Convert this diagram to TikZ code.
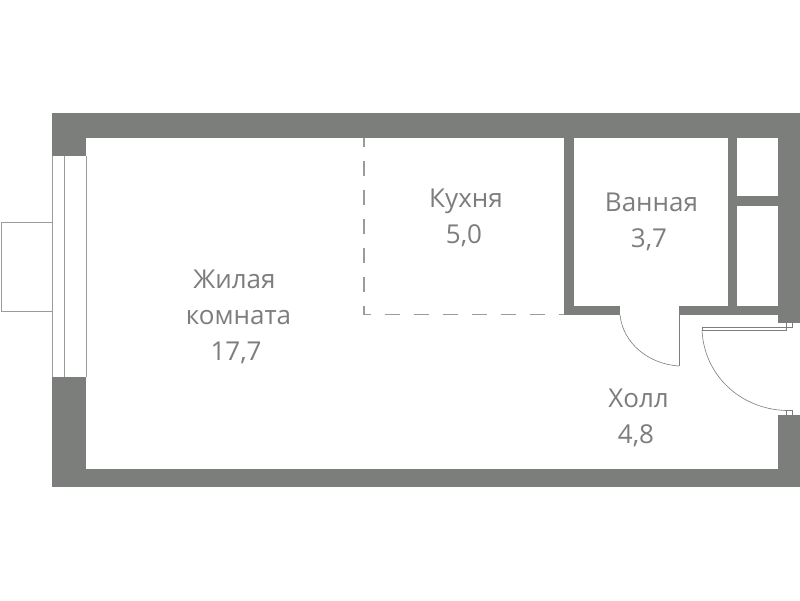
\documentclass[tikz,border=0pt]{standalone}
\usepackage{fontspec}
\setmainfont{Open Sans}
\definecolor{wallgray}{HTML}{7C7E7C}
\definecolor{linegray}{HTML}{9A9C9A}
\tikzset{
  wall/.style={fill=wallgray,draw=none},
  thin line/.style={draw=linegray,line width=1pt},
  fine line/.style={draw=wallgray,line width=0.8pt},
  room/.style={text=wallgray,font=\fontsize{26}{36}\selectfont,align=center,inner sep=0pt}
}
\begin{document}
\begin{tikzpicture}[x=1pt,y=-1pt]
\useasboundingbox (0,0) rectangle (800,600);
\fill[white] (0,0) rectangle (800,600);
% kitchen zone
\draw[thin line,line width=1.2pt,dash pattern=on 15pt off 14pt,dash phase=6pt] (364,138) -- (364,314.3) -- (564,314.3);
% walls
\fill[wall] (52,113) rectangle (800,138);
\fill[wall] (52,113) rectangle (86,156);
\fill[wall] (52,377) rectangle (86,487);
\fill[wall] (52,469) rectangle (800,487);
\fill[wall] (778,113) rectangle (800,323);
\fill[wall] (778,415) rectangle (800,487);
\fill[wall] (564,138) rectangle (574,315);
\fill[wall] (564,306) rectangle (620,315);
\fill[wall] (679,306) rectangle (778,315);
\fill[wall] (728,138) rectangle (737,306);
\fill[wall] (737,196) rectangle (778,206);
% window
\draw[thin line] (52.5,156) -- (52.5,377);
\draw[thin line] (64.5,156) -- (64.5,377);
\draw[thin line] (86,156) -- (86,377);
\draw[thin line] (52,222.5) -- (1,222.5) -- (1,311) -- (52,311);
% bathroom door
\draw[fine line] (679,315) -- (679,366);
\draw[draw=wallgray,line width=0.6pt] (620,315) .. controls (623,343) and (648,364) .. (679,366);
% entrance door
\draw[fine line] (702,327.8) -- (792,327.8) -- (792,323);
\draw[fine line] (702,327.8) -- (702,330.2) -- (786,330.2) -- (786,323);
\draw[draw=wallgray,line width=0.6pt] (702,330) .. controls (704,375) and (740,409) .. (786,410.5);
\draw[fine line] (786,415) -- (786,410) -- (792,410) -- (792,415);
% labels
\node[room] (living) at (238.5,317) {Жилая\hspace*{8pt}\\комната\\17,7\hspace*{5pt}};
\node[room] (kitchen) at (466,218) {Кухня\\5,0\hspace*{4pt}};
\node[room] (bath) at (651.5,221.5) {Ванная\\3,7\hspace*{5pt}};
\node[room] (hall) at (638.5,418) {Холл\\4,8\hspace*{5pt}};
\end{tikzpicture}
\end{document}
